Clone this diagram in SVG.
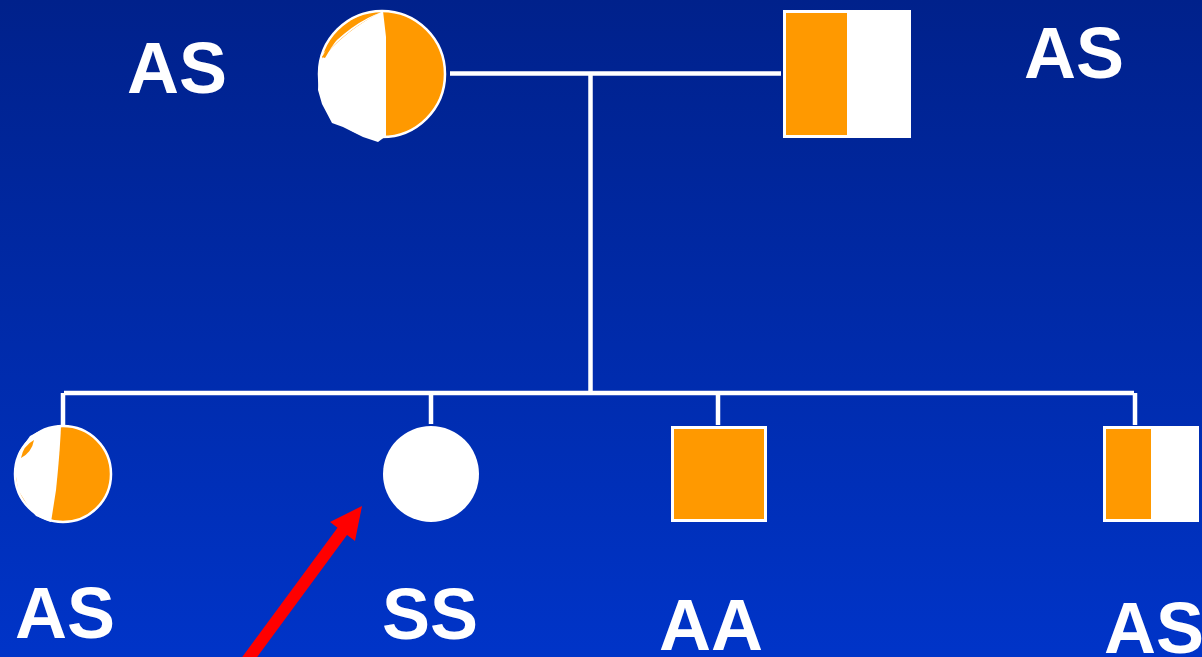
<svg xmlns="http://www.w3.org/2000/svg" width="1202" height="657" viewBox="0 0 1202 657">
  <defs>
    <linearGradient id="bg" x1="0" y1="0" x2="0" y2="1">
      <stop offset="0" stop-color="#00218b"/>
      <stop offset="1" stop-color="#0034c8"/>
    </linearGradient>
  </defs>
  <style>
    .label { font-family: "Liberation Sans", Arial, sans-serif; font-weight: bold; font-size: 72px; fill: #ffffff; }
    .line { stroke: #ffffff; stroke-width: 4.5; fill: none; }
    .orange { fill: #ff9900; }
    .white { fill: #ffffff; }
    .ring { fill: #ff9900; stroke: #ffffff; stroke-width: 2.5; }
  </style>

  <rect width="1202" height="657" fill="url(#bg)"/>

  <!-- pedigree lines -->
  <g id="connectors">
    <line class="line" x1="450" y1="73.5" x2="781" y2="73.5"/>
    <line class="line" x1="590.5" y1="73.5" x2="590.5" y2="393"/>
    <line class="line" x1="64" y1="393" x2="1134" y2="393"/>
    <line class="line" x1="63" y1="393" x2="63" y2="426"/>
    <line class="line" x1="431" y1="393" x2="431" y2="424"/>
    <line class="line" x1="718" y1="393" x2="718" y2="425"/>
    <line class="line" x1="1135" y1="393" x2="1135" y2="425"/>
  </g>

  <!-- mother: carrier female -->
  <g id="mother">
    <circle class="ring" cx="382" cy="74" r="63"/>
    <path class="white" d="M383,11 L386,37 L386,136 L378,142 L363,137 L343,127 L332,123 L322,104 L318,90 L319,62 Q345,30 383,11 Z"/>
    <path class="white" d="M323,57 Q348,28 382,12 Q352,22 322,55 Z"/>
    <path class="orange" d="M322,57 Q332,38 352,22 Q336,38 325,58 Z"/>
    <path class="orange" d="M350,21 Q364,14 377,13 Q364,19 353,24 Z"/>
  </g>

  <!-- father: carrier male -->
  <g id="father">
    <rect class="white" x="783" y="10" width="128" height="128"/>
    <rect class="orange" x="786" y="13" width="61" height="122"/>
  </g>

  <!-- daughter: carrier -->
  <g id="daughter-as">
    <circle class="ring" cx="63" cy="474" r="48"/>
    <path class="white" d="M61,426 C60,450 58,470 56,490 L51,522 L36,516 L28,506 L18,490 L15,470 L19,452 L30,436 Q45,427 61,426 Z"/>
    <path class="orange" d="M21,458 Q23,446 34,440 Q32,452 21,458 Z"/>
  </g>

  <!-- affected daughter -->
  <g id="daughter-ss">
    <circle class="white" cx="431" cy="474" r="48"/>
  </g>

  <!-- unaffected son -->
  <g id="son-aa">
    <rect class="orange" x="672.5" y="427.5" width="93" height="93" stroke="#ffffff" stroke-width="3"/>
  </g>

  <!-- carrier son -->
  <g id="son-as">
    <rect class="white" x="1103" y="426" width="96" height="96"/>
    <rect class="orange" x="1106" y="429" width="45" height="90"/>
  </g>

  <!-- pointer to the affected child -->
  <g id="pointer">
    <line x1="246" y1="662" x2="344" y2="529" stroke="#ff0000" stroke-width="12"/>
    <polygon points="362,506 330,522 355,541" fill="#ff0000"/>
  </g>

  <!-- genotype labels -->
  <g id="labels">
    <text class="label" x="127" y="93">AS</text>
    <text class="label" x="1024" y="78">AS</text>
    <text class="label" x="15" y="638">AS</text>
    <text class="label" x="382" y="639">SS</text>
    <text class="label" x="659" y="650">AA</text>
    <text class="label" x="1104" y="653">AS</text>
  </g>
</svg>
